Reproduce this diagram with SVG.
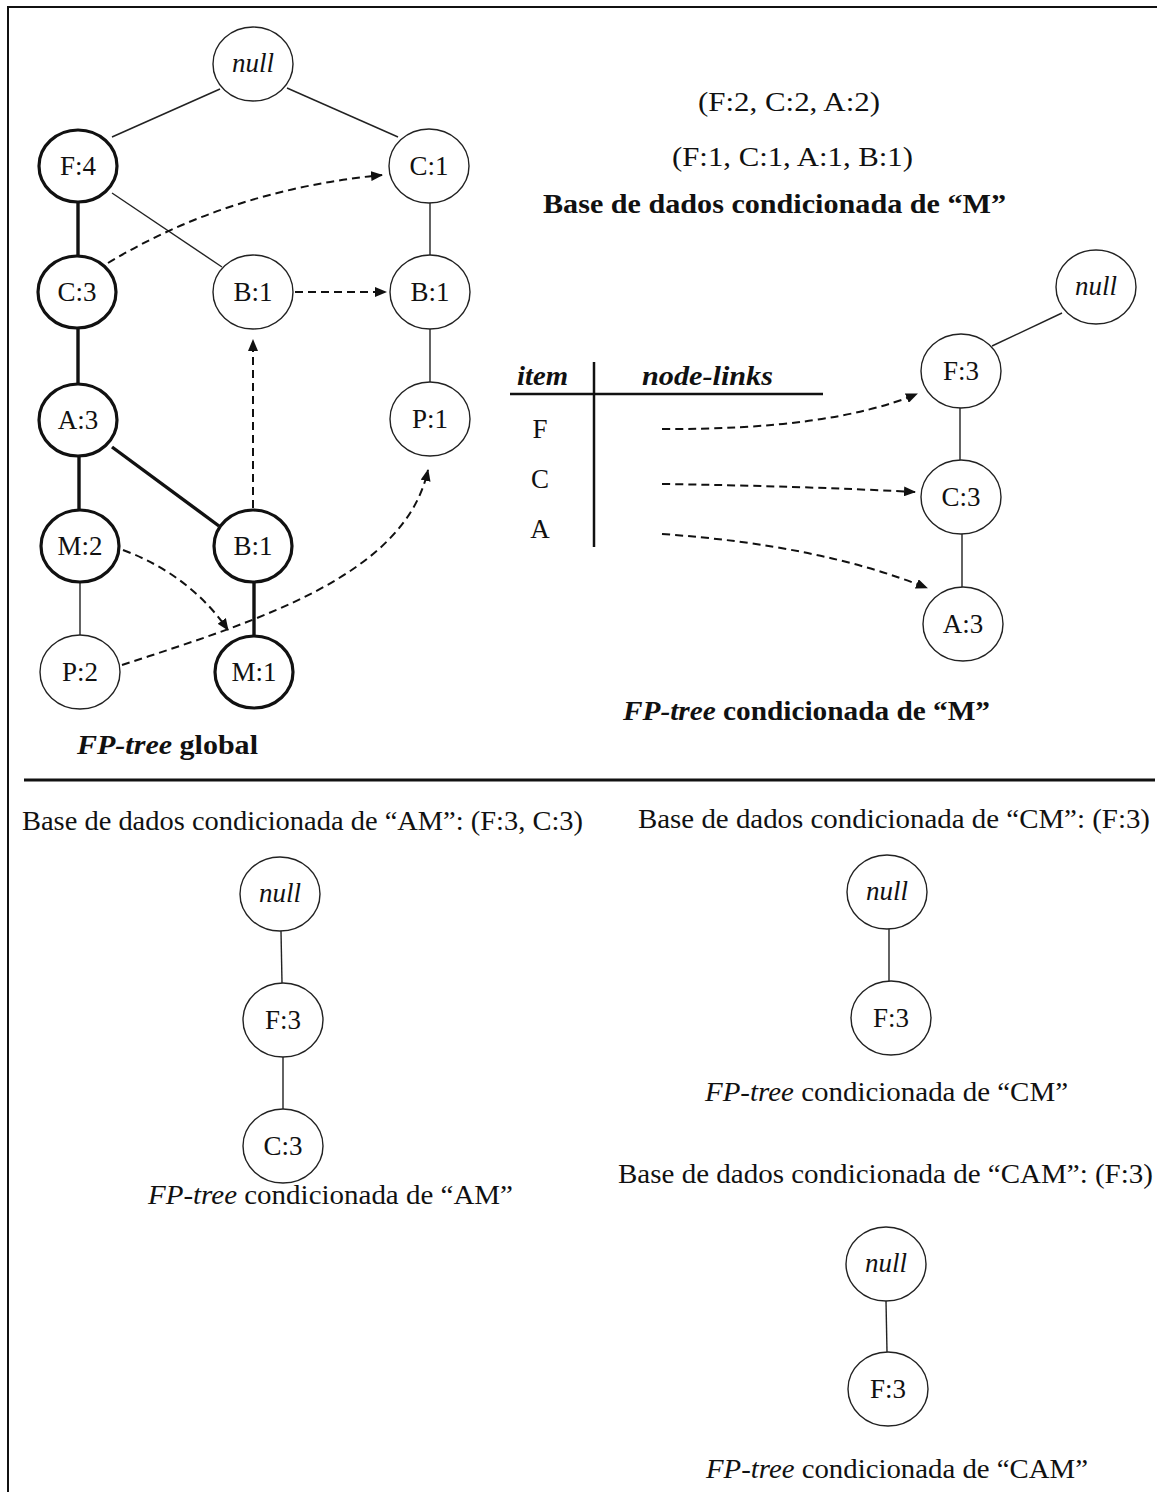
<svg xmlns="http://www.w3.org/2000/svg" width="1161" height="1492" viewBox="0 0 1161 1492">
<style>
text{font-family:"Liberation Serif","Times New Roman",serif;font-size:27px;fill:#111}
.lbl{text-anchor:middle}
.it{font-style:italic}
.b{font-weight:bold}
.n{fill:#fff;stroke:#222;stroke-width:1.4}
.nk{fill:#fff;stroke:#111;stroke-width:3.2}
.e{stroke:#222;stroke-width:1.4;fill:none}
.ek{stroke:#111;stroke-width:3.4;fill:none}
.d{stroke:#111;stroke-width:2;fill:none;stroke-dasharray:8 5;marker-end:url(#ah)}
.rule{stroke:#111;stroke-width:3;fill:none}
</style>
<defs>
<marker id="ah" viewBox="0 0 12 10" refX="11" refY="5" markerWidth="12" markerHeight="10" orient="auto" markerUnits="userSpaceOnUse"><path d="M0,0 L12,5 L0,10 z" fill="#111"/></marker>
</defs>
<rect x="0" y="0" width="1161" height="1492" fill="#fff"/>
<path d="M8,1492 L8,7 L1157,7" stroke="#111" stroke-width="2" fill="none"/>
<line class="rule" x1="24" y1="780" x2="1155" y2="780"/>

<g id="connectors">
<line class="e" x1="220" y1="89" x2="112" y2="137"/>
<line class="e" x1="287" y1="88" x2="398" y2="137"/>
<line class="e" x1="112" y1="193" x2="222" y2="267"/>
<line class="ek" x1="78" y1="203" x2="78" y2="255"/>
<line class="e" x1="430" y1="203" x2="430" y2="255"/>
<line class="e" x1="430" y1="329" x2="430" y2="382"/>
<line class="ek" x1="78" y1="329" x2="78" y2="383"/>
<line class="ek" x1="79" y1="457" x2="79" y2="509"/>
<line class="ek" x1="112" y1="447" x2="219" y2="526"/>
<line class="e" x1="80" y1="583" x2="80" y2="635"/>
<line class="ek" x1="254" y1="583" x2="254" y2="635"/>
<line class="e" x1="1062" y1="313" x2="992" y2="346"/>
<line class="e" x1="960" y1="408" x2="960" y2="460"/>
<line class="e" x1="962" y1="534" x2="962" y2="587"/>
<line class="e" x1="281" y1="931" x2="282" y2="983"/>
<line class="e" x1="283" y1="1057" x2="283" y2="1109"/>
<line class="e" x1="889" y1="929" x2="889" y2="981"/>
<line class="e" x1="886" y1="1301" x2="887" y2="1352"/>
<path class="d" d="M108,263 Q229,190 382,175"/>
<path class="d" d="M295,292 L386,292"/>
<path class="d" d="M253,508 L253,340"/>
<path class="d" d="M123,550 Q190,575 228,630"/>
<path class="d" d="M122,665 C260,620 405,575 428,470"/>
<path class="d" d="M662,429 Q830,430 917,394"/>
<path class="d" d="M662,484 Q800,486 915,492"/>
<path class="d" d="M662,534 Q820,545 927,588"/>
</g>

<g id="n-null"><ellipse class="n" cx="253" cy="64" rx="40" ry="37"/><text class="lbl it" x="253" y="72">null</text></g>
<g id="n-F4"><ellipse class="nk" cx="78" cy="166" rx="39" ry="36"/><text class="lbl" x="78" y="175">F:4</text></g>
<g id="n-C1"><ellipse class="n" cx="429" cy="166" rx="40" ry="37"/><text class="lbl" x="429" y="175">C:1</text></g>
<g id="n-C3"><ellipse class="nk" cx="77" cy="292" rx="39" ry="36"/><text class="lbl" x="77" y="301">C:3</text></g>
<g id="n-B1a"><ellipse class="n" cx="253" cy="292" rx="40" ry="37"/><text class="lbl" x="253" y="301">B:1</text></g>
<g id="n-B1b"><ellipse class="n" cx="430" cy="292" rx="40" ry="37"/><text class="lbl" x="430" y="301">B:1</text></g>
<g id="n-A3"><ellipse class="nk" cx="78" cy="420" rx="39" ry="36"/><text class="lbl" x="78" y="429">A:3</text></g>
<g id="n-P1"><ellipse class="n" cx="430" cy="419" rx="40" ry="37"/><text class="lbl" x="430" y="428">P:1</text></g>
<g id="n-M2"><ellipse class="nk" cx="80" cy="546" rx="39" ry="36"/><text class="lbl" x="80" y="555">M:2</text></g>
<g id="n-B1c"><ellipse class="nk" cx="253" cy="546" rx="39" ry="36"/><text class="lbl" x="253" y="555">B:1</text></g>
<g id="n-P2"><ellipse class="n" cx="80" cy="672" rx="40" ry="37"/><text class="lbl" x="80" y="681">P:2</text></g>
<g id="n-M1"><ellipse class="nk" cx="254" cy="672" rx="39" ry="36"/><text class="lbl" x="254" y="681">M:1</text></g>

<g id="m-null"><ellipse class="n" cx="1096" cy="287" rx="40" ry="37"/><text class="lbl it" x="1096" y="295">null</text></g>
<g id="m-F3"><ellipse class="n" cx="961" cy="371" rx="40" ry="37"/><text class="lbl" x="961" y="380">F:3</text></g>
<g id="m-C3"><ellipse class="n" cx="961" cy="497" rx="40" ry="37"/><text class="lbl" x="961" y="506">C:3</text></g>
<g id="m-A3"><ellipse class="n" cx="963" cy="624" rx="40" ry="37"/><text class="lbl" x="963" y="633">A:3</text></g>

<g id="am-null"><ellipse class="n" cx="280" cy="894" rx="40" ry="37"/><text class="lbl it" x="280" y="902">null</text></g>
<g id="am-F3"><ellipse class="n" cx="283" cy="1020" rx="40" ry="37"/><text class="lbl" x="283" y="1029">F:3</text></g>
<g id="am-C3"><ellipse class="n" cx="283" cy="1146" rx="40" ry="37"/><text class="lbl" x="283" y="1155">C:3</text></g>

<g id="cm-null"><ellipse class="n" cx="887" cy="892" rx="40" ry="37"/><text class="lbl it" x="887" y="900">null</text></g>
<g id="cm-F3"><ellipse class="n" cx="891" cy="1018" rx="40" ry="37"/><text class="lbl" x="891" y="1027">F:3</text></g>

<g id="cam-null"><ellipse class="n" cx="886" cy="1264" rx="40" ry="37"/><text class="lbl it" x="886" y="1272">null</text></g>
<g id="cam-F3"><ellipse class="n" cx="888" cy="1389" rx="40" ry="37"/><text class="lbl" x="888" y="1398">F:3</text></g>

<g id="table">
<line x1="510" y1="394" x2="823" y2="394" stroke="#111" stroke-width="2.7"/>
<line x1="594" y1="362" x2="594" y2="547" stroke="#111" stroke-width="2.5"/>
<text class="b it" x="517" y="385" textLength="51" lengthAdjust="spacingAndGlyphs">item</text>
<text class="b it" x="642" y="385" textLength="131" lengthAdjust="spacingAndGlyphs">node-links</text>
<text class="lbl" x="540" y="438">F</text>
<text class="lbl" x="540" y="488">C</text>
<text class="lbl" x="540" y="538">A</text>
</g>

<g id="texts">
<text x="698" y="111" textLength="182" lengthAdjust="spacingAndGlyphs">(F:2, C:2, A:2)</text>
<text x="672" y="166" textLength="241" lengthAdjust="spacingAndGlyphs">(F:1, C:1, A:1, B:1)</text>
<text class="b" x="543" y="213" textLength="463" lengthAdjust="spacingAndGlyphs">Base de dados condicionada de “M”</text>
<text class="b" x="623" y="720" textLength="367" lengthAdjust="spacingAndGlyphs"><tspan class="it">FP-tree</tspan> condicionada de “M”</text>
<text class="b" x="77" y="754" textLength="181" lengthAdjust="spacingAndGlyphs"><tspan class="it">FP-tree</tspan> global</text>
<text x="22" y="830" textLength="561" lengthAdjust="spacingAndGlyphs">Base de dados condicionada de “AM”: (F:3, C:3)</text>
<text x="148" y="1204" textLength="365" lengthAdjust="spacingAndGlyphs"><tspan class="it">FP-tree</tspan> condicionada de “AM”</text>
<text x="638" y="828" textLength="512" lengthAdjust="spacingAndGlyphs">Base de dados condicionada de “CM”: (F:3)</text>
<text x="705" y="1101" textLength="363" lengthAdjust="spacingAndGlyphs"><tspan class="it">FP-tree</tspan> condicionada de “CM”</text>
<text x="618" y="1183" textLength="535" lengthAdjust="spacingAndGlyphs">Base de dados condicionada de “CAM”: (F:3)</text>
<text x="706" y="1478" textLength="382" lengthAdjust="spacingAndGlyphs"><tspan class="it">FP-tree</tspan> condicionada de “CAM”</text>
</g>
</svg>
